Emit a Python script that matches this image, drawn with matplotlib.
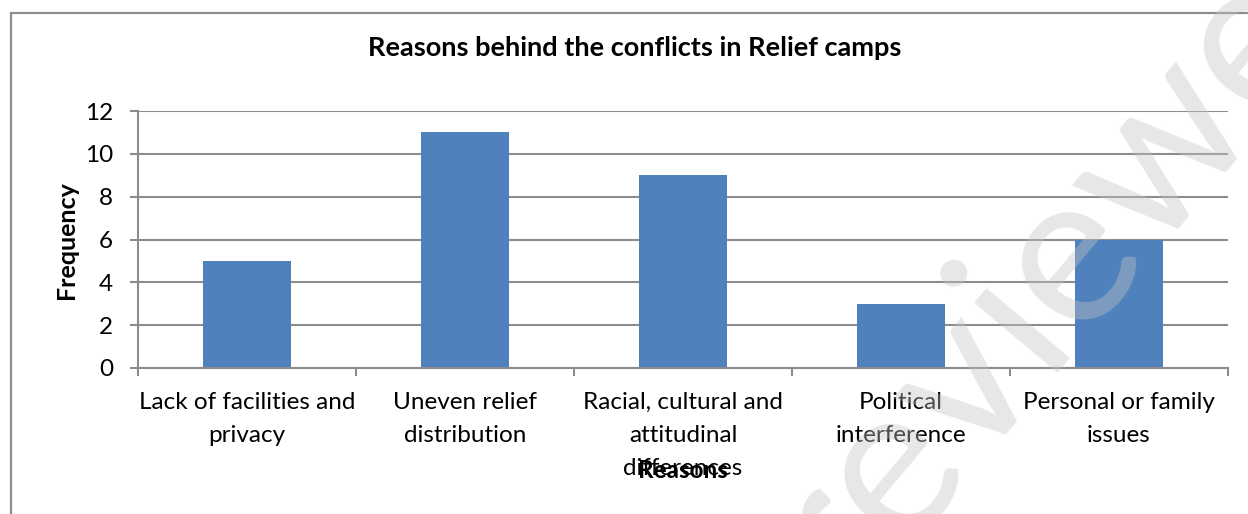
import matplotlib.pyplot as plt
from matplotlib.patches import Rectangle
import numpy as np

# Chart data
reasons = ['Lack of facilities and\nprivacy', 'Uneven relief\ndistribution',
           'Racial, cultural and\nattitudinal\ndifferences', 'Political\ninterference',
           'Personal or family\nissues']
frequency = [5, 11, 9, 3, 6]
y_ticks = [0, 2, 4, 6, 8, 10, 12]

plt.rcParams['font.family'] = ['Lato', 'DejaVu Sans']

W, H = 1248, 514
fig = plt.figure(figsize=(W / 100, H / 100), dpi=100)

# outer chart border (runs off the right and bottom edge)
fig.patches.append(Rectangle((11 / W, -0.1), 1.2, 1.1 - 13 / H, transform=fig.transFigure,
                             fill=False, edgecolor='#8c8c8c', linewidth=1.6))

ax = fig.add_axes([138 / W, 1 - 368 / H, (1228 - 138) / W, (368 - 111) / H])

x = np.arange(len(reasons))
ax.bar(x, frequency, width=0.4, color='#4F81BD', zorder=3)

ax.set_xlim(-0.5, len(reasons) - 0.5)
ax.set_ylim(0, 12)
ax.set_yticks(y_ticks)
ax.set_yticklabels([str(v) for v in y_ticks], fontsize=17.5)
ax.set_xticks(x)
ax.set_xticklabels(reasons, fontsize=17.5, linespacing=1.72)
ax.set_xticks(np.arange(len(reasons) + 1) - 0.5, minor=True)

ax.tick_params(axis='x', which='major', length=0, pad=17)
ax.tick_params(axis='x', which='minor', length=6, width=1.5, color='#8c8c8c')
ax.tick_params(axis='y', length=6, width=1.5, color='#8c8c8c', pad=12)

ax.grid(axis='y', color='#8c8c8c', linewidth=1.5, zorder=0)
for side in ['top', 'right']:
    ax.spines[side].set_visible(False)
for side in ['left', 'bottom']:
    ax.spines[side].set_color('#8c8c8c')
    ax.spines[side].set_linewidth(1.5)
    ax.spines[side].set_zorder(4)

fig.text(635 / W, 1 - 48 / H, 'Reasons behind the conflicts in Relief camps',
         ha='center', va='center', fontsize=19.5, fontweight='bold')
fig.text(66 / W, 1 - 240 / H, 'Frequency', rotation=90, ha='center', va='center',
         fontsize=18, fontweight='bold')
fig.text(683 / W, 1 - 471 / H, 'Reasons', ha='center', va='center',
         fontsize=17.5, fontweight='bold')

# faint diagonal watermark
fig.text(1068 / W, 1 - 248 / H, 'reviewer', rotation=50, ha='center', va='center',
         fontsize=155, color='#c4c4c4', alpha=0.4, zorder=10)

fig.savefig('out.png', dpi=100)
